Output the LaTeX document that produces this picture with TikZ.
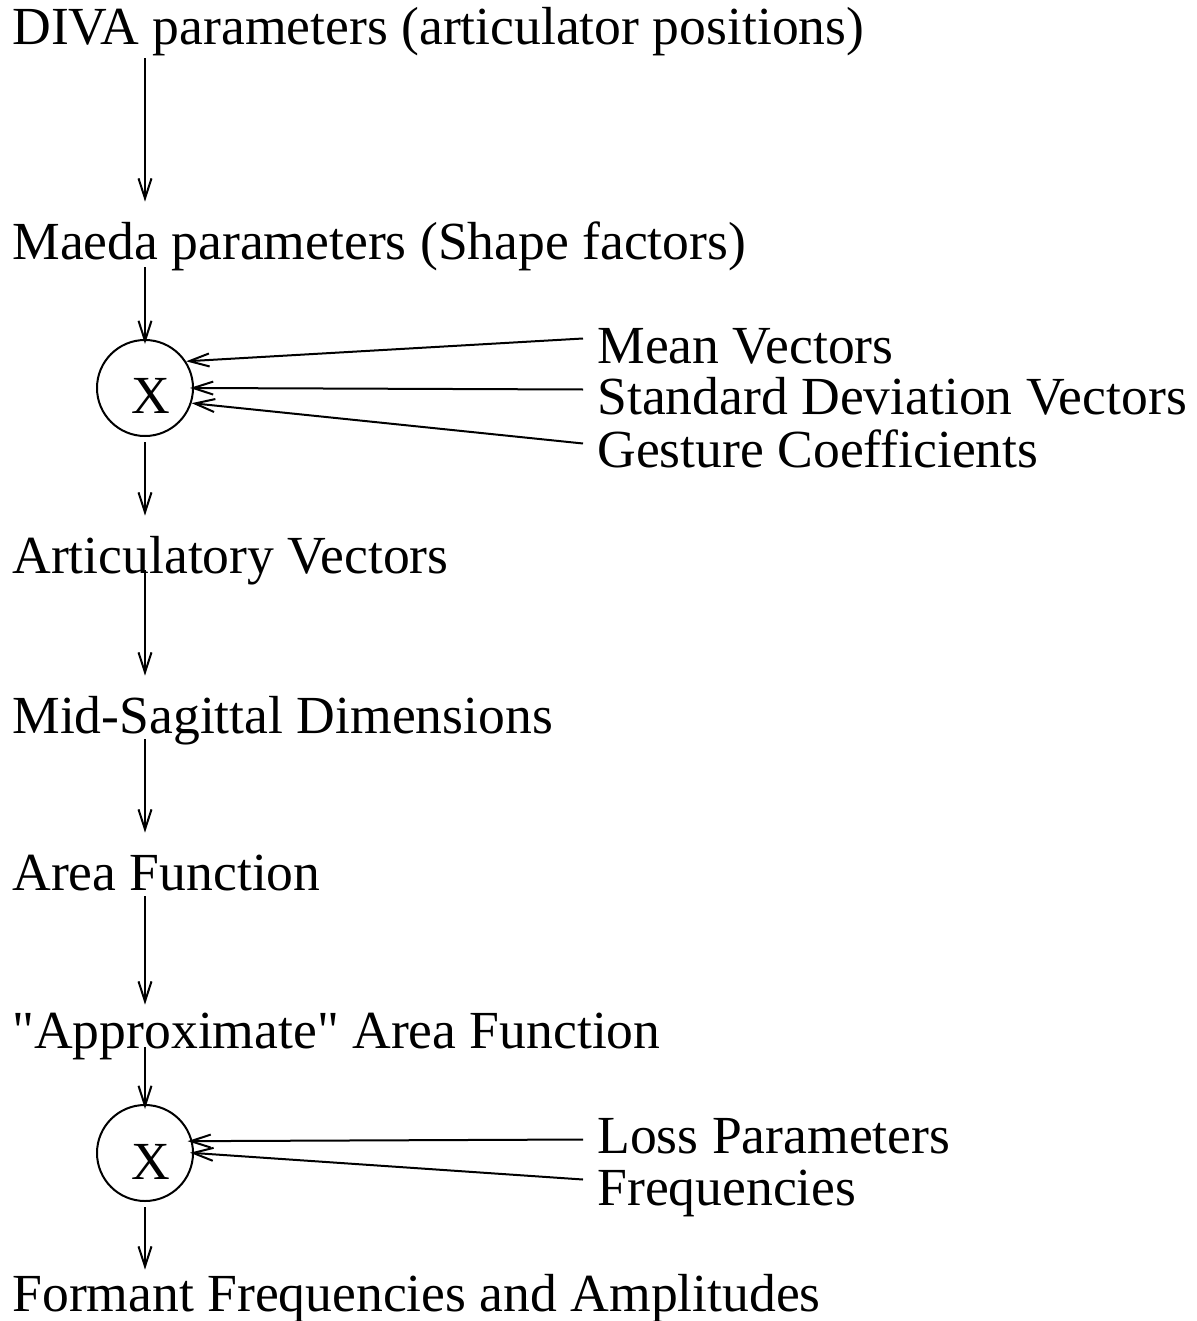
\documentclass[tikz,border=0pt]{standalone}
\usepackage{fontspec}
\setmainfont{Liberation Serif}
\usetikzlibrary{arrows.meta, calc}

\tikzset{
  lbl/.style={anchor=base west, inner sep=0pt, text height=28.5pt, text depth=3pt,
    font=\fontsize{26.8pt}{30pt}\selectfont},
  inlbl/.style={lbl, inner xsep=7pt},
  mult/.style={draw, circle, line width=1pt, minimum size=48pt, inner sep=0pt},
  arr/.style={line width=1pt, -{Straight Barb[length=10pt, width=6.5pt]}}
}

\begin{document}
\begin{tikzpicture}[x=0.5pt, y=-0.5pt]
\useasboundingbox (0,0) rectangle (1196,1321);
\node[lbl] (diva) at (12,45) {DIVA parameters (articulator positions)};
\node[lbl] (maeda) at (12,259) {Maeda parameters (Shape factors)};
\node[mult] (c1) at (145,388) {};
\node[lbl, anchor=base] at (151,413) {X};
\node[inlbl] (mean) at (583,363) {Mean Vectors};
\node[inlbl] (std) at (583,414) {Standard Deviation Vectors};
\node[inlbl] (gest) at (583,467) {Gesture Coefficients};
\node[lbl] (artic) at (12,573) {Articulatory Vectors};
\node[lbl] (mid) at (12,733) {Mid-Sagittal Dimensions};
\node[lbl] (area) at (12,890) {Area Function};
\node[lbl] (approx) at (12,1048) {\textquotedbl Approximate\textquotedbl{} Area Function};
\node[mult] (c2) at (145,1153) {};
\node[lbl, anchor=base] at (151,1179) {X};
\node[inlbl] (loss) at (583,1153) {Loss Parameters};
\node[inlbl] (freq) at (583,1205) {Frequencies};
\node[lbl] (formant) at (12,1311) {Formant Frequencies and Amplitudes};

\draw[arr, shorten <=3.5pt] (diva.south -| c1) -- (maeda.north -| c1);
\draw[arr, shorten <=1pt, shorten >=-2.5pt] (maeda.south -| c1) -- (c1.north);
\draw[arr, shorten <=2.5pt] (c1.south) -- (artic.north -| c1);
\draw[arr, shorten <=-4.5pt] (artic.south -| c1) -- (mid.north -| c1);
\draw[arr] (mid.south -| c1) -- (area.north -| c1);
\draw[arr, shorten >=-7pt] (area.south -| c1) -- (approx.north -| c1);
\draw[arr, shorten <=-3.5pt, shorten >=-2.5pt] (approx.south -| c1) -- (c2.north);
\draw[arr, shorten <=2.5pt, shorten >=-8pt] (c2.south) -- (formant.north -| c2);

\draw[arr] ([yshift=-0.5pt]mean.west) -- (c1.33);
\draw[arr, shorten >=-2pt] ([yshift=-0.5pt]std.west) -- (c1.east);
\draw[arr] ([yshift=-1pt]gest.west) -- (c1.-18);
\draw[arr, shorten >=-2.5pt] ([yshift=-6pt]loss.west) -- (c2.14);
\draw[arr, shorten >=-2pt] (freq.west) -- (c2.east);
\end{tikzpicture}
\end{document}
